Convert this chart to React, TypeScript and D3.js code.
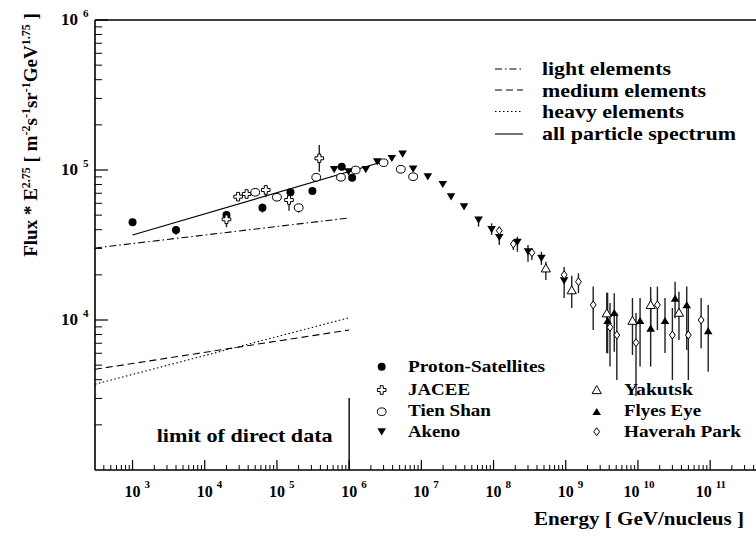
import React from "react";
import * as d3 from "d3";

// ---------- data ----------
const protonE = [1e3, 4e3, 2e4, 6.3e4, 1.54e5, 3.1e5, 7.9e5, 1.1e6];
const protonF = [44800, 39800, 50100, 56100, 71000, 72400, 105100, 88900];
const protonLo = [null, 36900, null, 51900, null, null, null, null];
const protonHi = [null, 42300, null, 59700, null, null, null, null];

const jaceeE = [2e4, 2.9e4, 3.8e4, 7.0e4, 1.47e5, 3.86e5];
const jaceeF = [46900, 66400, 69200, 73600, 63100, 119700];
const jaceeLo = [41500, null, null, 65700, 53400, 97500];
const jaceeHi = [50100, null, null, 79400, 66900, 146800];

const tienE = [5e4, 1e5, 2e5, 3.5e5, 7.7e5, 1.23e6, 3.0e6, 5.2e6, 7.7e6];
const tienF = [71000, 65800, 56100, 89400, 89400, 100000, 111900, 101100, 90200];
const tienLo = [null, null, 51900, null, null, null, null, null, null];
const tienHi = [null, null, 59300, null, null, null, null, null, null];

const akenoE = [6.2e5, 9.8e5, 1.7e6, 2.45e6, 3.9e6, 5.5e6, 7.7e6, 1.23e7, 1.98e7, 2.58e7, 3.9e7, 6.2e7, 9.4e7, 1.2e8, 2.14e8, 3.0e8, 4.6e8, 9.5e8];
const akenoF = [101000, 97500, 101000, 113500, 119700, 127900, 101600, 90200, 80300, 66400, 56900, 46400, 40200, 35600, 33000, 28500, 25800, 18300];
const akenoLo = [null, null, null, null, null, null, null, null, null, null, null, 41900, 36900, 31600, 28500, 24500, 23300, 14000];
const akenoHi = [null, null, null, null, null, null, null, null, null, null, null, 48800, 44100, 37800, 35900, 31600, 28500, 19700];

const yakutskE = [5.3e8, 1.21e9, 3.7e9, 8.4e9, 1.5e10, 3.7e10];
const yakutskF = [22100, 15800, 11090, 9890, 12600, 11190];
const yakutskLo = [18500, 12000, 6000, 5850, 8580, 7360];
const yakutskHi = [24500, 19700, 15200, 14000, 16600, 15400];

const flyE = [3.8e9, 4.7e9, 1.07e10, 1.5e10, 2.37e10, 3.27e10, 4.74e10, 9.4e10];
const flyF = [9890, 11190, 9890, 8810, 9890, 13960, 12600, 8450];
const flyLo = [6000, 6150, 4890, 4890, 6030, 10260, 6310, 4520];
const flyHi = [15200, 15060, 14000, 14000, 14000, 18000, 16700, 12600];

const haverahE = [1.2e8, 1.88e8, 3.4e8, 9.5e8, 1.5e9, 2.4e9, 4.1e9, 5.1e9, 9.4e9, 1.86e10, 3.0e10, 4.99e10, 7.5e10];
const haverahF = [39400, 32100, 28100, 20000, 18000, 12600, 8940, 7940, 7060, 12600, 7940, 7940, 10000];
const haverahLo = [36900, 29300, 25100, 18700, 15100, 8580, 4890, 3980, 3110, 8580, 3980, 3980, 6470];
const haverahHi = [41900, 34100, 30100, 22600, 20500, 16700, 12980, 11090, 11130, 16700, 12020, 12270, 14000];

// model lines [E, F]
const lightLine = [[10 ** 2.48, 30200], [1e6, 47900]];
const mediumLine = [[10 ** 2.48, 4690], [1e6, 8580]];
const heavyLine = [[10 ** 2.48, 3730], [1e6, 10350]];
const allLine = [[1e3, 36900], [10 ** 6.5, 114800]];

const xTickExponents = [3, 4, 5, 6, 7, 8, 9, 10, 11];
const yTickExponents = [4, 5, 6];

const lineLegend = ["light elements", "medium elements", "heavy elements", "all particle spectrum"];
const seriesNames = ["Proton-Satellites", "JACEE", "Tien Shan", "Akeno", "Yakutsk", "Flyes Eye", "Haverah Park"];

// ---------- layout ----------
const W = 756, H = 536;
const left = 95, top = 20, bottom = 470;
const decade = 72.2;
const x = d3.scaleLog().domain([10 ** 2.48, 1e12]).range([left, left + 9.52 * decade]);
const y = d3.scaleLog().domain([1e3, 1e6]).range([bottom, top]);
const FONT = '"Liberation Serif", "Times New Roman", Times, "DejaVu Serif", serif';

type Kind = "fcircle" | "ocircle" | "tdown" | "otup" | "ftup" | "diamond" | "cross";

function Marker({ kind, cx, cy }: { kind: Kind; cx: number; cy: number }) {
  switch (kind) {
    case "fcircle":
      return <circle cx={cx} cy={cy} r={4} fill="#000" />;
    case "ocircle":
      return <ellipse cx={cx} cy={cy} rx={4.4} ry={3.8} fill="#fff" stroke="#000" strokeWidth={1} />;
    case "tdown":
      return <path d={`M${cx - 4.3},${cy - 3.4}L${cx + 4.3},${cy - 3.4}L${cx},${cy + 3.8}Z`} fill="#000" />;
    case "otup":
      return <path d={`M${cx - 4.6},${cy + 3.6}L${cx + 4.6},${cy + 3.6}L${cx},${cy - 4.4}Z`} fill="#fff" stroke="#000" strokeWidth={1} />;
    case "ftup":
      return <path d={`M${cx - 4.3},${cy + 3.4}L${cx + 4.3},${cy + 3.4}L${cx},${cy - 3.8}Z`} fill="#000" />;
    case "diamond":
      return <path d={`M${cx},${cy - 4}L${cx + 2.9},${cy}L${cx},${cy + 4}L${cx - 2.9},${cy}Z`} fill="#fff" stroke="#000" strokeWidth={1} />;
    case "cross": {
      const a = 1.5, b = 4.3;
      const d = `M${cx - a},${cy - b}H${cx + a}V${cy - a}H${cx + b}V${cy + a}H${cx + a}V${cy + b}H${cx - a}V${cy + a}H${cx - b}V${cy - a}H${cx - a}Z`;
      return <path d={d} fill="#fff" stroke="#000" strokeWidth={1} />;
    }
  }
  return null;
}

const series: { E: number[]; F: number[]; lo: (number | null)[]; hi: (number | null)[]; kind: Kind }[] = [
  { E: protonE, F: protonF, lo: protonLo, hi: protonHi, kind: "fcircle" },
  { E: jaceeE, F: jaceeF, lo: jaceeLo, hi: jaceeHi, kind: "cross" },
  { E: tienE, F: tienF, lo: tienLo, hi: tienHi, kind: "ocircle" },
  { E: akenoE, F: akenoF, lo: akenoLo, hi: akenoHi, kind: "tdown" },
  { E: yakutskE, F: yakutskF, lo: yakutskLo, hi: yakutskHi, kind: "otup" },
  { E: flyE, F: flyF, lo: flyLo, hi: flyHi, kind: "ftup" },
  { E: haverahE, F: haverahF, lo: haverahLo, hi: haverahHi, kind: "diamond" },
];

const line = d3.line<number[]>().x((d) => x(d[0])).y((d) => y(d[1]));

export default function App() {
  const xMin = x.domain()[0], xMax = x.domain()[1];
  const xMinor: number[] = [];
  for (let e = 2; e <= 11; e++) for (let m = 2; m <= 9; m++) {
    const v = m * 10 ** e;
    if (v > xMin && v < xMax) xMinor.push(v);
  }
  const yMinor: number[] = [];
  for (let e = 3; e <= 5; e++) for (let m = 2; m <= 9; m++) yMinor.push(m * 10 ** e);
  const xMajor: number[] = [];
  for (let e = 3; e <= 11; e++) xMajor.push(10 ** e);

  const lineStyles = [
    { dash: "7,3,1.5,3" },
    { dash: "7,4" },
    { dash: "1.5,2.5" },
    { dash: "none" },
  ];
  const modelLines = [lightLine, mediumLine, heavyLine, allLine];

  const legendKinds: Kind[] = ["fcircle", "cross", "ocircle", "tdown", "otup", "ftup", "diamond"];
  const legendPos = [
    [381.7, 366.7, 408, 372, 137],
    [381.7, 390, 408, 394.5, 62],
    [381.7, 411.7, 408, 416, 83],
    [381.7, 431.7, 408, 437, 52],
    [596.7, 390, 624, 394.5, 69],
    [596.7, 411.7, 624, 416, 77],
    [596.7, 431.7, 624, 437, 117],
  ];
  const topLegendY = [69, 90, 111.5, 134];
  const topLegendBase = [75, 97, 118, 140];
  const topLegendW = [129, 164, 142, 194];

  const txt: React.CSSProperties = { fontFamily: FONT, fontWeight: 700 };

  return (
    <svg width={W} height={H} style={{ position: "absolute", left: 0, top: 0, display: "block", background: "#fff", fontFamily: FONT, fontWeight: 700 }}>
      <rect x={0} y={0} width={W} height={H} fill="#fff" />
      {/* frame */}
      <line x1={left} y1={top} x2={x.range()[1]} y2={top} stroke="#000" strokeWidth={1.6} />
      <line x1={left} y1={top} x2={left} y2={bottom} stroke="#000" strokeWidth={1.6} />
      <line x1={left} y1={bottom} x2={x.range()[1]} y2={bottom} stroke="#000" strokeWidth={1.6} />

      {/* x ticks */}
      {xMinor.map((v, i) => (
        <line key={"xm" + i} x1={x(v)} x2={x(v)} y1={bottom} y2={bottom - 5} stroke="#000" strokeWidth={1} />
      ))}
      {xMajor.map((v, i) => (
        <line key={"xM" + i} x1={x(v)} x2={x(v)} y1={bottom} y2={bottom - 10} stroke="#000" strokeWidth={1.2} />
      ))}
      {/* y ticks */}
      {yMinor.map((v, i) => (
        <line key={"ym" + i} x1={left} x2={left + 7} y1={y(v)} y2={y(v)} stroke="#000" strokeWidth={1} />
      ))}
      {yTickExponents.map((e) => (
        <line key={"yM" + e} x1={left} x2={left + 13} y1={y(10 ** e)} y2={y(10 ** e)} stroke="#000" strokeWidth={1.2} />
      ))}

      {/* x tick labels */}
      {xTickExponents.map((e) => {
        const px = x(10 ** e);
        const end = px + (e < 10 ? 8 : 1.5);
        return (
          <g key={"xl" + e}>
            <text style={txt} x={end} y={497} fontSize={16} textAnchor="end">10</text>
            <text style={txt} x={end + 4} y={488} fontSize={11}>{e}</text>
          </g>
        );
      })}
      {/* y tick labels */}
      {yTickExponents.map((e) => {
        const py = y(10 ** e);
        return (
          <g key={"yl" + e}>
            <text style={txt} x={78} y={py + 5} fontSize={17} textAnchor="end">10</text>
            <text style={txt} x={83} y={py - 3} fontSize={11}>{e}</text>
          </g>
        );
      })}

      {/* axis titles */}
      <text style={txt} x={534} y={525} fontSize={19} textLength={210} lengthAdjust="spacingAndGlyphs">Energy [ GeV/nucleus ]</text>
      <text style={txt} transform="translate(37,135) rotate(-90)" textAnchor="middle" fontSize={19}>
        Flux * E<tspan dy={-7} fontSize={12}>2.75</tspan>
        <tspan dy={7}> [ m</tspan>
        <tspan dy={-7} fontSize={12}>-2</tspan>
        <tspan dy={7}>s</tspan>
        <tspan dy={-7} fontSize={12}>-1</tspan>
        <tspan dy={7}>sr</tspan>
        <tspan dy={-7} fontSize={12}>-1</tspan>
        <tspan dy={7}>GeV</tspan>
        <tspan dy={-7} fontSize={12}>1.75</tspan>
        <tspan dy={7}> ]</tspan>
      </text>

      {/* model lines */}
      {modelLines.map((l, i) => (
        <path key={"ml" + i} d={line(l) || ""} fill="none" stroke="#000" strokeWidth={1.1}
          strokeDasharray={lineStyles[i].dash === "none" ? undefined : lineStyles[i].dash} />
      ))}

      {/* limit of direct data */}
      <line x1={x(1e6)} x2={x(1e6)} y1={398} y2={bottom} stroke="#000" strokeWidth={1.4} />
      <text style={txt} x={156.7} y={441.7} fontSize={19} textLength={176} lengthAdjust="spacingAndGlyphs">limit of direct data</text>

      {/* error bars */}
      {series.map((s, si) =>
        s.E.map((e, i) => {
          const lo = s.lo[i], hi = s.hi[i];
          if (lo == null || hi == null) return null;
          return <line key={`eb${si}-${i}`} x1={x(e)} x2={x(e)} y1={y(lo)} y2={y(hi)} stroke="#222" strokeWidth={1.4} />;
        })
      )}
      {/* markers */}
      {series.map((s, si) =>
        s.E.map((e, i) => <Marker key={`mk${si}-${i}`} kind={s.kind} cx={x(e)} cy={y(s.F[i])} />)
      )}

      {/* top legend */}
      {lineLegend.map((name, i) => (
        <g key={"tl" + i}>
          <line x1={495} x2={523} y1={topLegendY[i]} y2={topLegendY[i]} stroke="#000" strokeWidth={1.1}
            strokeDasharray={lineStyles[i].dash === "none" ? undefined : lineStyles[i].dash} />
          <text style={txt} x={542} y={topLegendBase[i]} fontSize={19} textLength={topLegendW[i]} lengthAdjust="spacingAndGlyphs">{name}</text>
        </g>
      ))}

      {/* bottom legend */}
      {seriesNames.map((name, i) => {
        const [mx, my, tx, ty, tw] = legendPos[i];
        return (
          <g key={"bl" + i}>
            <Marker kind={legendKinds[i]} cx={mx} cy={my} />
            <text style={txt} x={tx} y={ty} fontSize={17} textLength={tw} lengthAdjust="spacingAndGlyphs">{name}</text>
          </g>
        );
      })}
    </svg>
  );
}
